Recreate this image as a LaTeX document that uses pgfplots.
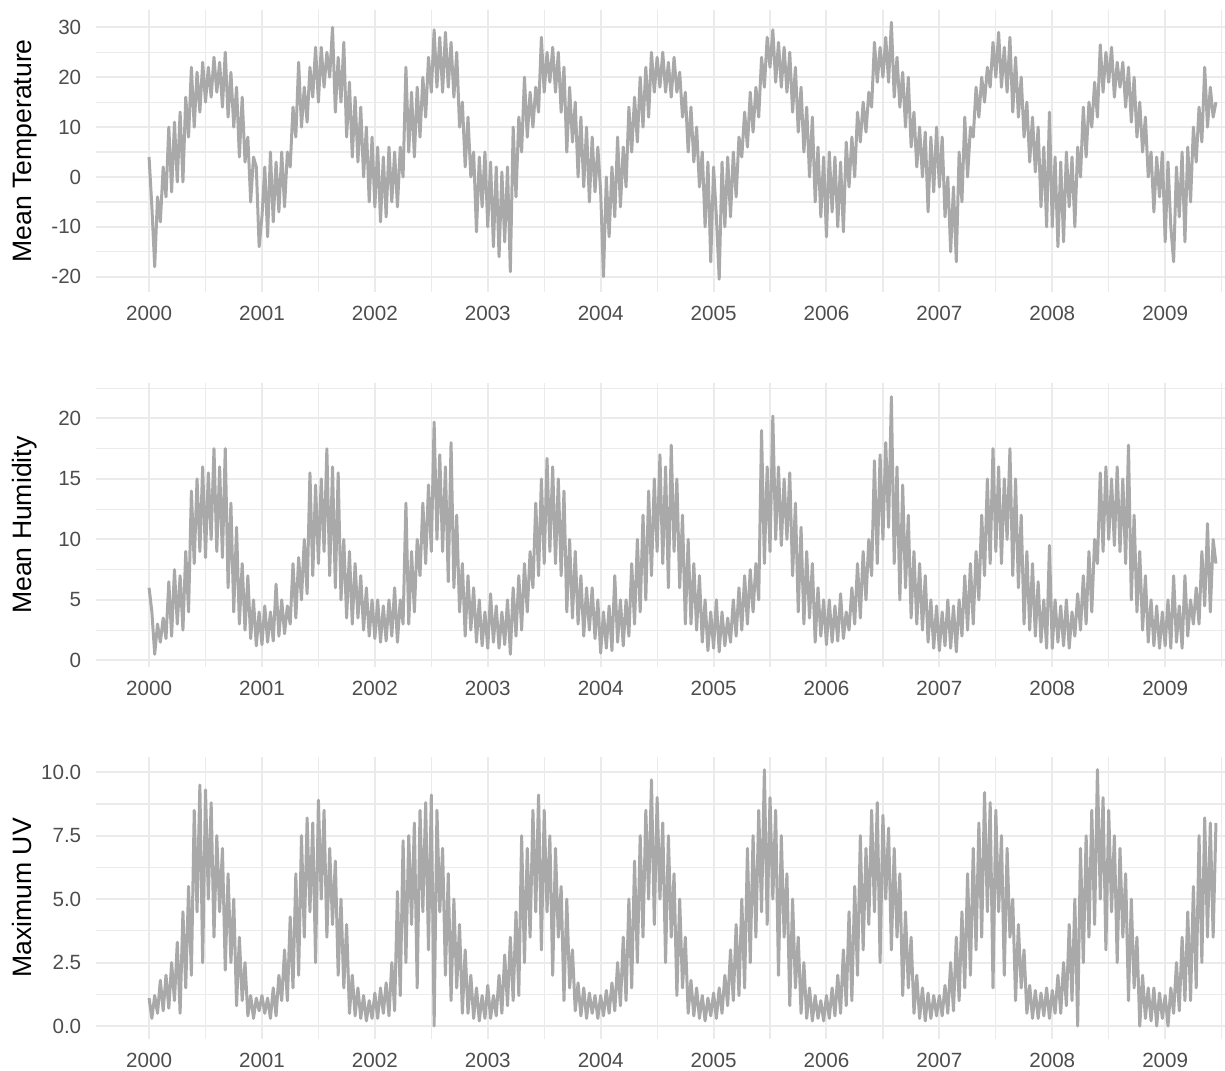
\documentclass[border=0pt]{standalone}
\usepackage{pgfplots}
\usepackage{pgfplotstable}
\pgfplotsset{compat=1.18}
\usepackage{fontspec}
\setmainfont{Liberation Sans}

\definecolor{linegray}{HTML}{A9A9A9}
\definecolor{gridgray}{HTML}{EBEBEB}
\definecolor{tickgray}{HTML}{4D4D4D}

% one value every 0.025 year (about 9 days), from 2000.000 on
\pgfplotstableread[header=false,row sep=\\]{
4\\ -6\\ -18\\ -4\\ -9\\ 2\\ -4\\ 10\\ -3\\ 11\\ -1\\ 13\\ -1\\ 16\\ 8\\ 22\\ 10\\ 21\\ 13\\ 23\\ 15\\ 22\\ 16\\ 24\\ 17\\ 23\\ 14\\ 25\\ 12\\ 21\\ 10\\ 18\\ 4\\ 16\\ 3\\ 8\\ -5\\ 4\\ 2\\ -14\\
-8\\ 2\\ -12\\ 5\\ -9\\ 3\\ -7\\ 5\\ -6\\ 5\\ 2\\ 14\\ 8\\ 23\\ 10\\ 18\\ 11\\ 22\\ 16\\ 26\\ 15\\ 26\\ 18\\ 25\\ 20\\ 30\\ 13\\ 24\\ 15\\ 27\\ 8\\ 19\\ 4\\ 16\\ 3\\ 14\\ 0\\ 10\\ -5\\ 8\\
-6\\ 6\\ -9\\ 4\\ -8\\ 6\\ -5\\ 5\\ -6\\ 6\\ 0\\ 22\\ 5\\ 17\\ 4\\ 18\\ 8\\ 20\\ 12\\ 24\\ 17\\ 29.5\\ 18\\ 28\\ 17\\ 29\\ 18\\ 27\\ 16\\ 25\\ 10\\ 15\\ 2\\ 12\\ 0\\ 5\\ -11\\ 4\\ -6\\ 5\\
-10\\ 3\\ -14\\ 2\\ -16\\ 1\\ -13\\ 2\\ -19\\ 10\\ -4\\ 12\\ 5\\ 20\\ 8\\ 17\\ 10\\ 18\\ 13\\ 28\\ 17\\ 25\\ 19\\ 26\\ 17\\ 25\\ 13\\ 22\\ 5\\ 18\\ 7\\ 15\\ 0\\ 12\\ -2\\ 10\\ -5\\ 8\\ -3\\ 6\\
-3\\ -20\\ 0\\ -12\\ 2\\ -8\\ 8\\ -6\\ 6\\ -2\\ 14\\ 5\\ 16\\ 7\\ 20\\ 10\\ 22\\ 12\\ 25\\ 17\\ 24\\ 18\\ 25\\ 17\\ 23\\ 16\\ 24\\ 17\\ 21\\ 12\\ 17\\ 5\\ 14\\ 3\\ 10\\ -2\\ 5\\ -10\\ 3\\ -17\\
2\\ -8\\ -20.5\\ 3\\ -10\\ 4\\ -8\\ 5\\ -4\\ 8\\ 4\\ 13\\ 6\\ 17\\ 9\\ 18\\ 12\\ 24\\ 18\\ 28\\ 22\\ 29.5\\ 19\\ 27\\ 18\\ 26\\ 17\\ 25\\ 13\\ 22\\ 9\\ 18\\ 5\\ 14\\ 0\\ 12\\ -5\\ 6\\ -8\\ 4\\
-12\\ 5\\ -7\\ 4\\ -10\\ 3\\ -11\\ 7\\ -2\\ 8\\ 0\\ 13\\ 7\\ 15\\ 9\\ 17\\ 14\\ 27\\ 19\\ 26\\ 20\\ 28\\ 19\\ 31\\ 16\\ 24\\ 14\\ 21\\ 10\\ 20\\ 6\\ 13\\ 2\\ 10\\ 0\\ 9\\ -7\\ 8\\ -3\\ 10\\
-2\\ 8\\ -8\\ 0\\ -15\\ -2\\ -17\\ 5\\ -5\\ 12\\ 0\\ 10\\ 8\\ 18\\ 12\\ 20\\ 15\\ 22\\ 18\\ 27\\ 20\\ 29\\ 18\\ 26\\ 17\\ 28\\ 13\\ 24\\ 12\\ 20\\ 8\\ 15\\ 3\\ 12\\ 1\\ 10\\ -6\\ 6\\ -10\\ 13\\
-10\\ 4\\ -14\\ 3\\ -13\\ 5\\ -6\\ 4\\ -10\\ 6\\ 0\\ 14\\ 4\\ 15\\ 10\\ 19\\ 12\\ 26.5\\ 17\\ 25\\ 19\\ 26\\ 16\\ 23\\ 18\\ 23\\ 14\\ 22\\ 11\\ 20\\ 8\\ 15\\ 5\\ 12\\ 0\\ 5\\ -7\\ 4\\ -4\\ 5\\
-13\\ 3\\ -10\\ -17\\ 2\\ -8\\ 5\\ -13\\ 6\\ -5\\ 10\\ 3\\ 14\\ 7\\ 22\\ 10\\ 18\\ 12\\ 15\\}\temperature

\pgfplotstableread[header=false,row sep=\\]{
6\\ 4\\ 0.5\\ 3\\ 1.5\\ 3.5\\ 1.8\\ 6.5\\ 2\\ 7.5\\ 3\\ 7\\ 2.5\\ 9\\ 4\\ 14\\ 8\\ 15\\ 9\\ 16\\ 8.5\\ 15.5\\ 10\\ 17.5\\ 9\\ 16\\ 8.5\\ 17.5\\ 6\\ 13\\ 4\\ 11\\ 3\\ 8\\ 2.5\\ 7\\ 1.8\\ 5\\ 1.2\\ 4\\
1.3\\ 4.5\\ 1.5\\ 4\\ 1.6\\ 6.3\\ 2\\ 5\\ 2.2\\ 4.5\\ 3\\ 8\\ 3.5\\ 8.5\\ 5\\ 10\\ 5.5\\ 15.5\\ 7\\ 14.5\\ 8\\ 15\\ 9\\ 17.5\\ 7\\ 16\\ 6\\ 15.5\\ 5\\ 10\\ 3.5\\ 9\\ 3\\ 8\\ 3.5\\ 7\\ 2.5\\ 6\\ 2\\ 5\\
1.8\\ 5\\ 1.5\\ 4.5\\ 1.6\\ 5\\ 2\\ 6\\ 1.5\\ 5\\ 3\\ 13\\ 3\\ 9\\ 4\\ 10\\ 7\\ 13\\ 8\\ 14.5\\ 9\\ 19.7\\ 10\\ 17\\ 9\\ 16\\ 6.5\\ 18\\ 6\\ 12\\ 4\\ 8\\ 2\\ 7\\ 2.5\\ 6\\ 1.5\\ 5\\ 1.2\\ 4\\
1\\ 5.5\\ 1.5\\ 4.5\\ 1\\ 4\\ 1.3\\ 5\\ 0.5\\ 6\\ 2\\ 7\\ 2.5\\ 8\\ 4\\ 9\\ 6\\ 13\\ 7\\ 15\\ 8\\ 16.7\\ 9\\ 16\\ 8\\ 15\\ 7\\ 14\\ 4\\ 10\\ 3.5\\ 9\\ 3\\ 7\\ 2\\ 6\\ 2.5\\ 6\\ 1.8\\ 5\\
0.6\\ 4\\ 1\\ 4.5\\ 0.8\\ 7\\ 1.5\\ 5\\ 1.2\\ 5\\ 2\\ 8\\ 3\\ 10\\ 4\\ 12\\ 5\\ 14\\ 7\\ 15\\ 9\\ 17\\ 8\\ 16\\ 6\\ 17.8\\ 9\\ 15\\ 6\\ 12\\ 3\\ 10\\ 3\\ 8\\ 2.5\\ 7\\ 1.5\\ 5\\ 0.8\\ 4\\
1\\ 5\\ 0.7\\ 4\\ 1.2\\ 3.5\\ 1.5\\ 5\\ 2\\ 6\\ 2.5\\ 7\\ 3\\ 7.5\\ 4\\ 8\\ 5\\ 19\\ 8\\ 16\\ 9\\ 20.2\\ 10\\ 16\\ 9.5\\ 15\\ 10\\ 15.5\\ 7\\ 13\\ 4\\ 11\\ 3\\ 9\\ 3.5\\ 8\\ 1.5\\ 6\\ 2\\ 5\\
1.3\\ 5\\ 1.5\\ 4.5\\ 1.6\\ 5.5\\ 1.8\\ 4\\ 2.5\\ 6\\ 3\\ 8\\ 3.5\\ 9\\ 5\\ 10\\ 7\\ 16.5\\ 8\\ 17\\ 10\\ 18\\ 11\\ 21.8\\ 8\\ 16\\ 5\\ 14.5\\ 6\\ 12\\ 3.5\\ 9\\ 3\\ 8\\ 2.5\\ 7\\ 1.5\\ 5\\ 1\\ 4.5\\
0.8\\ 4\\ 1.2\\ 5\\ 1\\ 4.5\\ 0.7\\ 5\\ 2\\ 7\\ 2.5\\ 8\\ 3\\ 9\\ 5\\ 12\\ 7\\ 15\\ 8\\ 17.5\\ 9\\ 16\\ 8\\ 15\\ 10\\ 17.5\\ 7\\ 15\\ 6\\ 12\\ 3\\ 9\\ 2.5\\ 8\\ 2\\ 6.5\\ 1.5\\ 5\\ 1\\ 9.5\\
1\\ 5\\ 1.5\\ 4.5\\ 1.2\\ 5\\ 1\\ 4\\ 2\\ 5.5\\ 2.5\\ 7\\ 3\\ 9\\ 4\\ 10\\ 8\\ 15.5\\ 9\\ 16\\ 10\\ 15\\ 9.5\\ 16\\ 9\\ 15\\ 8\\ 17.8\\ 5\\ 12\\ 4\\ 9\\ 2.5\\ 7\\ 1.5\\ 5\\ 1.2\\ 4.5\\ 1\\ 4\\
1.2\\ 5\\ 1\\ 7\\ 1.5\\ 4.5\\ 1\\ 7\\ 2\\ 5\\ 3\\ 6\\ 3\\ 9\\ 4.5\\ 11.3\\ 4\\ 10\\ 8\\}\humidity

\pgfplotstableread[header=false,row sep=\\]{
1.1\\ 0.3\\ 1.2\\ 0.5\\ 1.8\\ 0.6\\ 2\\ 0.7\\ 2.5\\ 1\\ 3.3\\ 0.5\\ 4.5\\ 1.5\\ 5.5\\ 2\\ 8.5\\ 4.5\\ 9.5\\ 2.5\\ 9.3\\ 5\\ 8.8\\ 3.5\\ 7.5\\ 4.5\\ 7\\ 2.2\\ 6\\ 2.5\\ 5\\ 0.8\\ 3.5\\ 1\\ 2.5\\ 0.4\\ 1.2\\ 0.3\\ 1.1\\ 0.6\\
1.2\\ 0.5\\ 1.1\\ 0.3\\ 1.5\\ 0.4\\ 2\\ 1\\ 3\\ 1\\ 4.3\\ 1.5\\ 6\\ 2\\ 7.5\\ 3.5\\ 8.2\\ 4.5\\ 8\\ 2.5\\ 8.9\\ 5\\ 8.5\\ 3.5\\ 7\\ 4\\ 6.5\\ 2\\ 5\\ 1.5\\ 4\\ 0.5\\ 2\\ 0.4\\ 1.5\\ 0.3\\ 1.2\\ 0.2\\ 1\\ 0.3\\
1.3\\ 0.3\\ 1.5\\ 0.5\\ 1.7\\ 0.4\\ 2.5\\ 0.6\\ 5.3\\ 1.2\\ 7.3\\ 2.5\\ 7.5\\ 4\\ 8\\ 1.5\\ 8.5\\ 4.5\\ 8.8\\ 3\\ 9.1\\ 0\\ 8.5\\ 4.5\\ 7\\ 2\\ 6\\ 1\\ 5\\ 1.5\\ 4\\ 0.5\\ 3\\ 0.5\\ 2\\ 0.3\\ 1.5\\ 0.2\\ 1.2\\ 0.3\\
1.6\\ 0.3\\ 1.2\\ 0.4\\ 2\\ 0.5\\ 2.8\\ 0.8\\ 3.5\\ 1\\ 4.5\\ 1.2\\ 7.5\\ 2.5\\ 7\\ 3.5\\ 8.5\\ 4.5\\ 9.1\\ 3\\ 8.5\\ 4.5\\ 7.5\\ 2\\ 7\\ 3.5\\ 5.5\\ 1\\ 5\\ 1.5\\ 3\\ 0.6\\ 1.7\\ 0.4\\ 1.5\\ 0.3\\ 1.3\\ 0.5\\ 1.2\\ 0.3\\
1.2\\ 0.4\\ 1.4\\ 0.5\\ 1.7\\ 0.6\\ 2.5\\ 0.8\\ 3.5\\ 1\\ 5\\ 1.5\\ 6.5\\ 2.5\\ 7.5\\ 3.5\\ 8.5\\ 5\\ 9.7\\ 4\\ 9\\ 5\\ 8\\ 2.5\\ 7.5\\ 3.5\\ 6\\ 1.2\\ 5\\ 1.5\\ 3.5\\ 0.5\\ 1.8\\ 0.4\\ 1.5\\ 0.3\\ 1.2\\ 0.2\\ 1.1\\ 0.4\\
1.3\\ 0.3\\ 1.5\\ 0.5\\ 2\\ 0.8\\ 3\\ 1\\ 4\\ 1.2\\ 5\\ 1.5\\ 7\\ 2.5\\ 7.5\\ 3.5\\ 8.5\\ 4.5\\ 10.1\\ 4\\ 9\\ 5\\ 8.5\\ 2\\ 7.5\\ 3.5\\ 6\\ 0.8\\ 5\\ 1.5\\ 3.5\\ 0.5\\ 2.5\\ 0.3\\ 1.5\\ 0.2\\ 1.2\\ 0.3\\ 1\\ 0.2\\
1.2\\ 0.3\\ 1.5\\ 0.4\\ 2\\ 0.5\\ 3\\ 0.8\\ 4.5\\ 1\\ 5.5\\ 2\\ 7.5\\ 3\\ 7\\ 4\\ 8.5\\ 4.5\\ 8.8\\ 2.5\\ 8.3\\ 5\\ 7.8\\ 3\\ 7\\ 3.5\\ 6\\ 1.2\\ 4.5\\ 1.5\\ 3.5\\ 0.5\\ 2\\ 0.3\\ 1.5\\ 0.2\\ 1.3\\ 0.3\\ 1.2\\ 0.4\\
1.2\\ 0.4\\ 1.6\\ 0.5\\ 2.5\\ 0.6\\ 3.5\\ 1\\ 4.5\\ 1.5\\ 6\\ 2\\ 7\\ 3\\ 8\\ 3.5\\ 9.2\\ 4.5\\ 8.8\\ 1.5\\ 8.5\\ 4.5\\ 7.5\\ 2\\ 7\\ 3.5\\ 5\\ 1\\ 4\\ 1.5\\ 3\\ 0.5\\ 1.6\\ 0.3\\ 1.4\\ 0.3\\ 1.3\\ 0.4\\ 1.5\\ 0.3\\
1.4\\ 0.5\\ 2\\ 0.5\\ 2.5\\ 0.8\\ 4\\ 1\\ 5\\ 0\\ 7\\ 2.5\\ 7.5\\ 3.5\\ 8.5\\ 4\\ 10.1\\ 5\\ 9\\ 3\\ 8.5\\ 4.5\\ 7.5\\ 2.5\\ 7\\ 3.5\\ 6\\ 1\\ 5\\ 1.5\\ 3.5\\ 0\\ 2\\ 0.3\\ 1.5\\ 0.2\\ 1.5\\ 0\\ 1.3\\ 0.3\\
1.2\\ 0\\ 1.5\\ 0.5\\ 2.5\\ 0.6\\ 3.5\\ 1\\ 4.5\\ 1\\ 5.5\\ 1.5\\ 7.5\\ 2.5\\ 8.2\\ 3.5\\ 8\\ 3.5\\ 8\\}\uvmax

\pgfplotsset{
  panel/.style={
    scale only axis,
    width=564.5pt,
    anchor=south west,
    xmin=1999.53, xmax=2009.53,
    xtick={2000,2001,2002,2003,2004,2005,2006,2007,2008,2009},
    xticklabels={2000,2001,2002,2003,2004,2005,2006,2007,2008,2009},
    minor xtick={2000.5,2001.5,2002.5,2003.5,2004.5,2005.5,2006.5,2007.5,2008.5,2009.5},
    grid=both,
    major grid style={draw=gridgray, line width=1pt},
    minor grid style={draw=gridgray, line width=0.6pt},
    axis line style={draw=none},
    tick style={draw=none},
    major tick length=0pt, minor tick length=0pt,
    ticklabel style={font=\fontsize{10.3}{12}\selectfont, color=tickgray},
    xticklabel style={anchor=north, inner sep=0pt, yshift=-6.8pt},
    yticklabel style={anchor=east, inner sep=0pt, xshift=-7.2pt},
  },
  series/.style={draw=linegray, line width=1.5pt, line join=round, no markers},
}

\begin{document}
\begin{tikzpicture}
\begin{axis}[panel, at={(48pt,389.15pt)}, height=140.9pt,
    ymin=-23, ymax=33.5,
    ytick={-20,-10,0,10,20,30}, yticklabels={-20,-10,0,10,20,30},
    minor ytick={-15,-5,5,15,25}]
  \addplot[series] table[x expr=2000+\coordindex*0.025, y index=0] {\temperature};
\end{axis}

\begin{axis}[panel, at={(48pt,201.5pt)}, height=141.8pt,
    ymin=-0.55, ymax=22.9,
    ytick={0,5,10,15,20}, yticklabels={0,5,10,15,20},
    minor ytick={2.5,7.5,12.5,17.5,22.5}]
  \addplot[series] table[x expr=2000+\coordindex*0.025, y index=0] {\humidity};
\end{axis}

\begin{axis}[panel, at={(48pt,15.65pt)}, height=140.85pt,
    ymin=-0.5, ymax=10.6,
    ytick={0,2.5,5,7.5,10}, yticklabels={0.0,2.5,5.0,7.5,10.0},
    minor ytick={1.25,3.75,6.25,8.75}]
  \addplot[series] table[x expr=2000+\coordindex*0.025, y index=0] {\uvmax};
\end{axis}

\node[rotate=90, anchor=base, font=\fontsize{13.3}{16}\selectfont] at (15.85pt,459.55pt) {Mean Temperature};
\node[rotate=90, anchor=base, font=\fontsize{13.3}{16}\selectfont] at (15.85pt,272.4pt) {Mean Humidity};
\node[rotate=90, anchor=base, font=\fontsize{13.3}{16}\selectfont] at (15.85pt,86.05pt) {Maximum UV};

\pgfresetboundingbox
\path (0,0) rectangle (612.5pt,535pt);
\end{tikzpicture}
\end{document}
